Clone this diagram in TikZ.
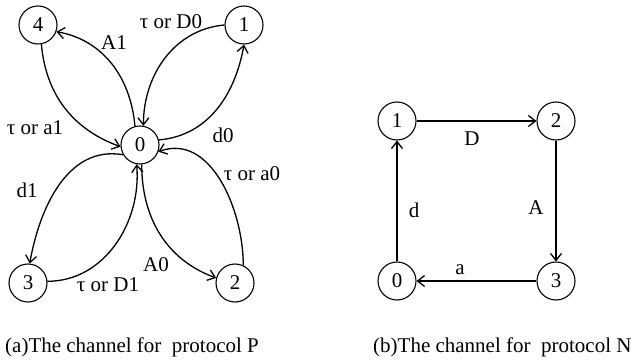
\documentclass[tikz,border=0pt]{standalone}
\usepackage{fontspec}
\setmainfont{Liberation Serif}
\usetikzlibrary{arrows.meta}
\begin{document}
\begin{tikzpicture}[x=1pt,y=1pt,
  state/.style={circle,draw,line width=1.1pt,minimum size=38pt,inner sep=0pt,
    font=\fontsize{21}{21}\selectfont},
  lbl/.style={inner sep=0pt,font=\fontsize{21}{21}\selectfont},
  edge/.style={line width=1.3pt,
    -{Straight Barb[length=7pt,width=11pt,line width=1.3pt]}}]
\useasboundingbox (0,0) rectangle (644,-363);

% (a) channel for protocol P
\node[state] (a4) at (38,-25) {4};
\node[state] (a1) at (244,-25) {1};
\node[state] (a0) at (140,-145) {0};
\node[state] (a3) at (28,-283) {3};
\node[state] (a2) at (235,-283) {2};

\draw[edge] (a0.105) to[out=95,in=-10] (a4.-20);
\draw[edge] (a4.-80) to[out=-85,in=160] (a0.185);
\draw[edge] (a1.180) to[out=185,in=90] (a0.80);
\draw[edge] (a0.15) to[out=5,in=-100] (a1.-90);
\draw[edge] (a0.210) to[out=170,in=80] (a3.85);
\draw[edge] (a3.5) to[out=0,in=-85] (a0.-100);
\draw[edge] (a0.-85) to[out=-90,in=160] (a2.165);
\draw[edge] (a2.65) to[out=90,in=20] (a0.-20);

\node[lbl] (la1) at (114,-43) {A1};
\node[lbl] (ltd0) at (171,-22) {τ or D0};
\node[lbl] (lta1) at (35,-128) {τ or a1};
\node[lbl] (ld0) at (223,-135) {d0};
\node[lbl] (ld1) at (27,-190) {d1};
\node[lbl] (la0) at (156,-265) {A0};
\node[lbl] (ltd1) at (108,-285) {τ or D1};
\node[lbl] (lta0) at (252,-174) {τ or a0};

% (b) channel for protocol N
\node[state] (b1) at (397,-121) {1};
\node[state] (b2) at (556,-121) {2};
\node[state] (b0) at (397,-281) {0};
\node[state] (b3) at (556,-281) {3};

\draw[edge] (b0) -- (b1);
\draw[edge] (b1) -- (b2);
\draw[edge] (b2) -- (b3);
\draw[edge] (b3) -- (b0);

\node[lbl] (lD) at (472,-139) {D};
\node[lbl] (ld) at (414,-210) {d};
\node[lbl] (lA) at (536,-208) {A};
\node[lbl] (la) at (460,-270) {a};

% captions
\node[lbl,anchor=west] (capa) at (5,-347) {(a)The channel for~~protocol P};
\node[lbl,anchor=west] (capb) at (373,-347) {(b)The channel for~~protocol N};
\end{tikzpicture}
\end{document}
